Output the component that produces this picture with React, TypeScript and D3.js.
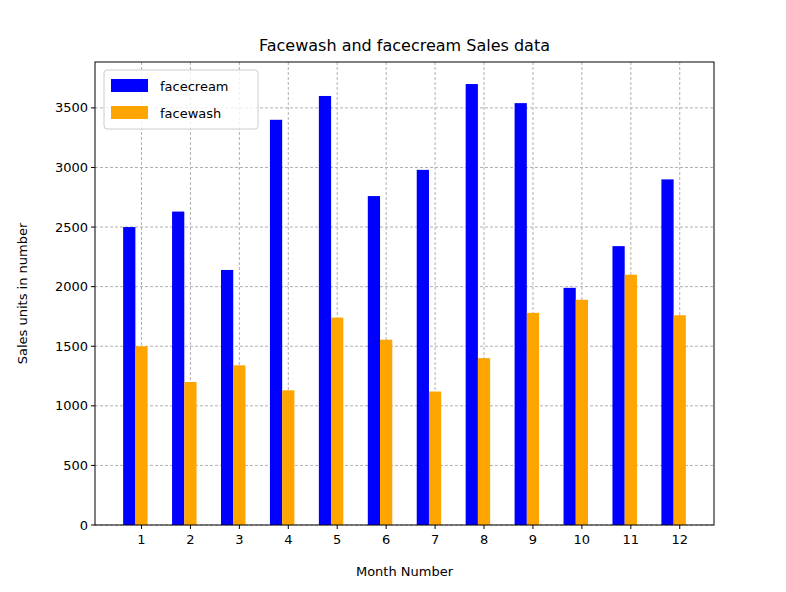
import * as d3 from 'd3';

const months = [1, 2, 3, 4, 5, 6, 7, 8, 9, 10, 11, 12];
const facecream = [2500, 2630, 2140, 3400, 3600, 2760, 2980, 3700, 3540, 1990, 2340, 2900];
const facewash = [1500, 1200, 1340, 1130, 1740, 1555, 1120, 1400, 1780, 1890, 2100, 1760];
const yTicks = [0, 500, 1000, 1500, 2000, 2500, 3000, 3500];

export default function App() {
  const L = 95, R = 714, T = 62, B = 525;
  const x = d3.scaleLinear().domain([0.05, 12.7]).range([L, R]);
  const y = d3.scaleLinear().domain([0, 3885]).range([B, T]);
  const bw = x(0.25) - x(0);
  const font = 'DejaVu Sans, sans-serif';
  return (
    <svg width={786} height={592} style={{ position: 'absolute', left: 0, top: 0 }} fontFamily={font}>
      <rect width={786} height={592} fill="#fff" />
      {months.map(m => (
        <line key={'gx' + m} x1={x(m)} x2={x(m)} y1={T} y2={B} stroke="#b0b0b0" strokeDasharray="3,2" />
      ))}
      {yTicks.map(t => (
        <line key={'gy' + t} x1={L} x2={R} y1={y(t)} y2={y(t)} stroke="#b0b0b0" strokeDasharray="3,2" />
      ))}
      {months.map((m, i) => (
        <g key={'b' + m}>
          <rect x={x(m - 0.375)} y={y(facecream[i])} width={bw} height={B - y(facecream[i])} fill="blue" />
          <rect x={x(m - 0.125)} y={y(facewash[i])} width={bw} height={B - y(facewash[i])} fill="orange" />
        </g>
      ))}
      <rect x={L} y={T} width={R - L} height={B - T} fill="none" stroke="#000" />
      {months.map(m => (
        <g key={'tx' + m}>
          <line x1={x(m)} x2={x(m)} y1={B} y2={B + 4} stroke="#000" />
          <text x={x(m)} y={B + 19} textAnchor="middle" fontSize={13}>{m}</text>
        </g>
      ))}
      {yTicks.map(t => (
        <g key={'ty' + t}>
          <line x1={L - 4} x2={L} y1={y(t)} y2={y(t)} stroke="#000" />
          <text x={L - 7} y={y(t) + 4.5} textAnchor="end" fontSize={13}>{t}</text>
        </g>
      ))}
      <text x={(L + R) / 2} y={51} textAnchor="middle" fontSize={16}>Facewash and facecream Sales data</text>
      <text x={(L + R) / 2} y={576} textAnchor="middle" fontSize={13}>Month Number</text>
      <text transform={`translate(27,${(T + B) / 2}) rotate(-90)`} textAnchor="middle" fontSize={13}>Sales units in number</text>
      <rect x={104} y={70} width={154} height={59} rx={3} fill="#fff" fillOpacity={0.8} stroke="#ccc" />
      <rect x={111} y={79} width={37} height={13} fill="blue" />
      <text x={160} y={90.5} fontSize={13}>facecream</text>
      <rect x={111} y={106} width={37} height={13} fill="orange" />
      <text x={160} y={117.5} fontSize={13}>facewash</text>
    </svg>
  );
}
